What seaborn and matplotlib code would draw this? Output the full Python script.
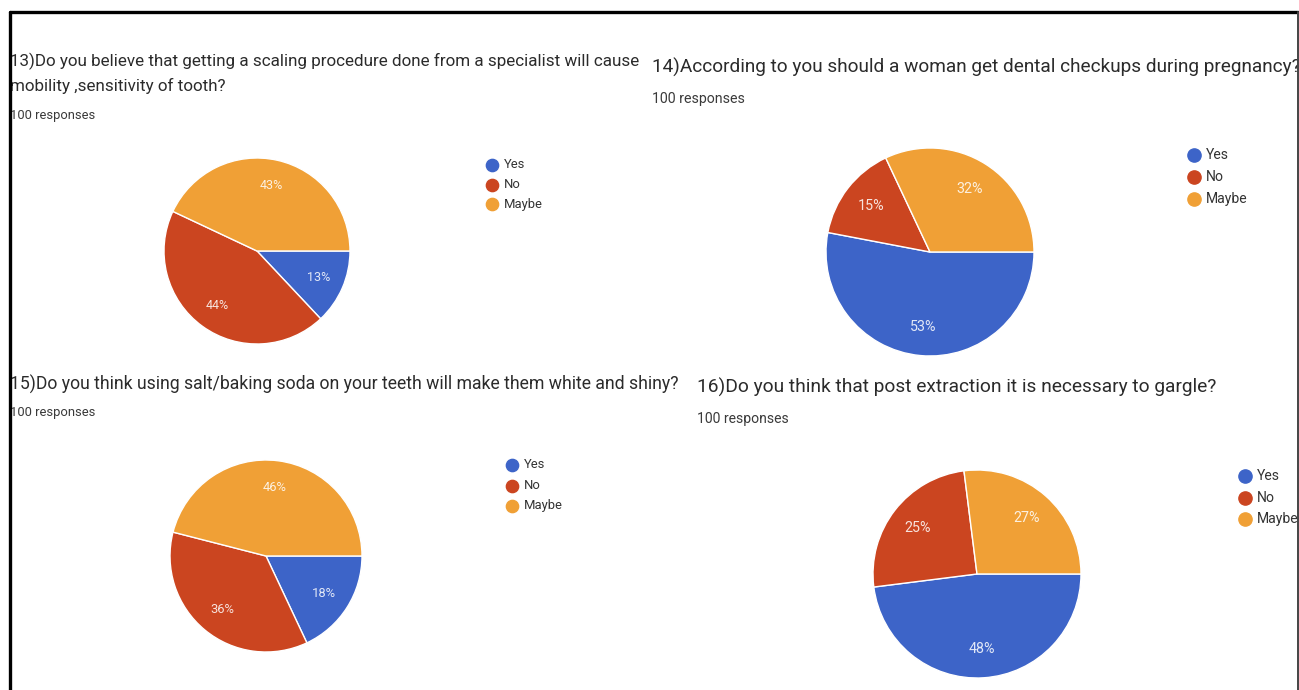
import matplotlib
matplotlib.use("Agg")
import matplotlib.pyplot as plt
from matplotlib.lines import Line2D
import seaborn as sns

sns.set_theme(style="white")
plt.rcParams["font.family"] = ["Roboto", "DejaVu Sans"]

W, H = 1299, 690

categories = ["Yes", "No", "Maybe"]
q13_values = [13, 44, 43]
q14_values = [53, 15, 32]
q15_values = [18, 36, 46]
q16_values = [48, 25, 27]

titles = [
    "13)Do you believe that getting a scaling procedure done from a specialist will cause\nmobility ,sensitivity of tooth?",
    "14)According to you should a woman get dental checkups during pregnancy?",
    "15)Do you think using salt/baking soda on your teeth will make them white and shiny?",
    "16)Do you think that post extraction it is necessary to gargle?",
]
subtitle = "100 responses"

palette = sns.color_palette(["#3d64c8", "#cb4520", "#f0a036"])

fig = plt.figure(figsize=(W / 100, H / 100), dpi=100)
fig.patch.set_facecolor("white")


def fx(x):
    return x / W


def fy(y):
    return 1 - y / H


# (values, centre x, centre y, radius, title x, title y, subtitle y,
#  legend x, legend y, legend step, legend px, title pt, subtitle pt, label pt)
panels = [
    (q13_values, 257, 251, 93, 10, 61, 115, 492, 165, 19.5, 13, 12.25, 9.3, 9),
    (q14_values, 930, 252, 104, 652, 67, 99, 1194, 155, 22, 14, 13.7, 10.2, 10.3),
    (q15_values, 266, 556, 96, 10, 384, 413, 512, 465, 20.5, 13, 12.7, 9.4, 9.3),
    (q16_values, 977, 574, 104, 697, 387, 419, 1245, 476, 21.5, 14, 13.75, 10.1, 10.3),
]

for (vals, cx, cy, r, tx, ty, sy, lx, ly, lstep, lfs, tfs, sfs, pfs), title in zip(panels, titles):
    ax = fig.add_axes([fx(cx - r), fy(cy + r), 2 * r / W, 2 * r / H])
    wedges, texts = ax.pie(
        vals,
        colors=palette,
        startangle=0,
        counterclock=False,
        labels=[f"{v}%" for v in vals],
        labeldistance=0.72,
        wedgeprops=dict(edgecolor="white", linewidth=1.0),
        textprops=dict(color="white", fontsize=pfs, alpha=0.85),
    )
    for t in texts:
        t.set_horizontalalignment("center")
    ax.set_aspect("equal")
    ax.set_xlim(-1, 1)
    ax.set_ylim(-1, 1)
    ax.axis("off")

    # title and response count
    for i, line in enumerate(title.split("\n")):
        fig.text(fx(tx), fy(ty + i * 25), line, fontsize=tfs, color="#2b2b2b",
                 ha="left", va="center")
    fig.text(fx(tx), fy(sy), subtitle, fontsize=sfs, color="#3a3a3a",
             ha="left", va="center")

    # legend entries
    for i, (cat, col) in enumerate(zip(categories, palette)):
        yy = ly + i * lstep
        fig.add_artist(Line2D([fx(lx)], [fy(yy)], marker="o", markersize=lfs * 0.68,
                              color=col, transform=fig.transFigure))
        fig.text(fx(lx + 12), fy(yy), cat, fontsize=lfs * 0.72, color="#333333",
                 ha="left", va="center")

# frame around the sheet
fig.add_artist(Line2D([fx(9.5), fx(1298)], [fy(12), fy(12)], color="black",
                      linewidth=2.4, transform=fig.transFigure, zorder=10))
fig.add_artist(Line2D([fx(9.5), fx(9.5)], [fy(12), fy(H)], color="black",
                      linewidth=2.4, transform=fig.transFigure, zorder=10))
fig.add_artist(Line2D([fx(1297.5), fx(1297.5)], [fy(12), fy(H)], color="#444444",
                      linewidth=1.4, transform=fig.transFigure, zorder=10))
# blank margin to the right of the frame
fig.add_artist(plt.Rectangle((fx(1298.3), 0), 1 - fx(1298.3), 1, color="white",
                             transform=fig.transFigure, zorder=9))

fig.savefig("out.png", dpi=100, facecolor="white")
